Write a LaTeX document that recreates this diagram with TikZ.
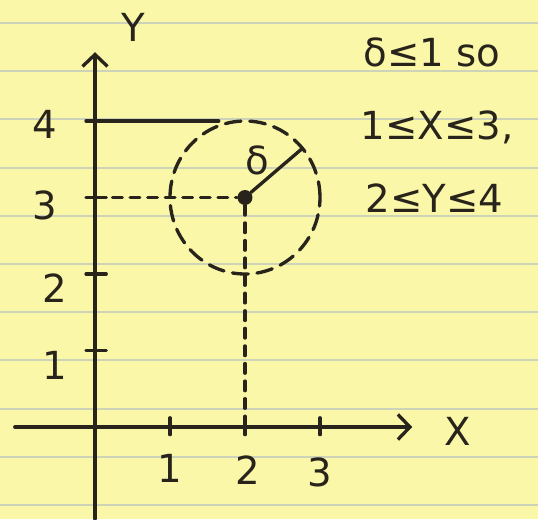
\documentclass[tikz,border=0pt]{standalone}
\usepackage{fontspec}
\setmainfont{DejaVu Sans}
\usetikzlibrary{arrows.meta}

\definecolor{padyellow}{RGB}{250,247,168}
\definecolor{padrule}{RGB}{204,211,184}
\definecolor{ink}{RGB}{40,36,28}

\begin{document}
\begin{tikzpicture}[x=1.5cm,y=1.53cm]
\tikzset{
  inkline/.style={draw=ink,line width=1.9pt,line cap=round,line join=round},
  guide/.style={inkline,dash pattern=on 5.5pt off 4.5pt},
  dashring/.style={inkline,dash pattern=on 9pt off 5pt},
  axisarrow/.style={inkline,-{Straight Barb[length=2.4mm,width=5mm,line width=1.9pt]}},
  handtext/.style={text=ink,font=\fontsize{22}{26}\selectfont,inner sep=0pt}
}
% paper
\fill[padyellow] (-1.9cm,-1.84cm) rectangle (8.86cm,8.54cm);
\useasboundingbox (-1.9cm,-1.84cm) rectangle (8.86cm,8.54cm);
\foreach \k in {0,...,10}
  \draw[padrule,line width=1.1pt] (-1.9cm,{8.08cm-\k*0.964cm}) -- (8.86cm,{8.08cm-\k*0.964cm});
% axes
\coordinate (xstart) at (-1.07,0);
\coordinate (xend) at (4.23,0);
\coordinate (ybottom) at (0,-1.2);
\coordinate (ytop) at (0,4.9);
\draw[axisarrow] (xstart) -- (xend);
\draw[axisarrow] (ybottom) -- (ytop);
\foreach \i in {1,2,3}
  \draw[inkline] (\i,-0.1) -- (\i,0.12);
\foreach \j in {1,...,4}
  \draw[inkline] (-0.12,\j) -- (0.15,\j);
\node[handtext] (n_Y) at (0.51,5.22) {Y};
\node[handtext] (n_X) at (4.84,-0.06) {X};
\node[handtext] (n_y4) at (-0.67,3.95) {4};
\node[handtext] (n_y3) at (-0.67,2.90) {3};
\node[handtext] (n_y2) at (-0.53,1.82) {2};
\node[handtext] (n_y1) at (-0.53,0.81) {1};
\node[handtext] (n_x1) at (1.00,-0.54) {1};
\node[handtext] (n_x2) at (2.04,-0.56) {2};
\node[handtext] (n_x3) at (3.00,-0.59) {3};
% the disc round (2,3)
\node[circle,fill=ink,inner sep=0pt,minimum size=3mm] (n_c) at (2,3) {};
\draw[dashring] (2,3) circle (1);
\path (2,3) ++(40:1) coordinate (rim);
\draw[inkline] (n_c) -- (rim);
\node[handtext] (n_delta) at (2.17,3.49) {δ};
\coordinate (ytick4) at (0,4);
\coordinate (topend) at (1.65,4);
\coordinate (ytick3) at (0,3);
\coordinate (xtick2) at (2,0);
\draw[inkline] (ytick4) -- (topend);
\draw[guide] (ytick3) -- (n_c);
\draw[guide] (n_c) -- (xtick2);
% conditions
\node[handtext] (n_cond1) at (4.49,4.90) {δ≤1 so};
\node[handtext] (n_cond2) at (4.56,3.91) {1≤X≤3,};
\node[handtext] (n_cond3) at (4.53,2.99) {2≤Y≤4};
\end{tikzpicture}
\end{document}
